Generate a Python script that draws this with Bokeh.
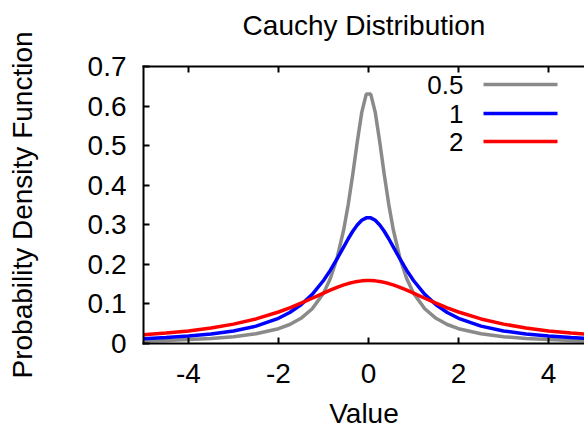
from bokeh.plotting import figure
from bokeh.models import Range1d, FixedTicker, LinearAxis, CustomJSTickFormatter
from bokeh.core.properties import value
from bokeh.embed import file_html
from bokeh.resources import INLINE

# ---- data ----
x_vals = [-5.0, -4.5, -4.0, -3.5, -3.0, -2.5, -2.0, -1.75, -1.5, -1.25, -1.0,
          -0.85, -0.7, -0.55, -0.45, -0.35, -0.25, -0.15, -0.05,
          0.05, 0.15, 0.25, 0.35, 0.45, 0.55, 0.7, 0.85,
          1.0, 1.25, 1.5, 1.75, 2.0, 2.5, 3.0, 3.5, 4.0, 4.5, 5.0]

y_scale_05 = [0.0063, 0.0078, 0.0098, 0.0127, 0.0172, 0.0245, 0.0374, 0.0480, 0.0637, 0.0878, 0.1273,
              0.1637, 0.2151, 0.2881, 0.3517, 0.4273, 0.5093, 0.5841, 0.6303,
              0.6303, 0.5841, 0.5093, 0.4273, 0.3517, 0.2881, 0.2151, 0.1637,
              0.1273, 0.0878, 0.0637, 0.0480, 0.0374, 0.0245, 0.0172, 0.0127, 0.0098, 0.0078, 0.0063]

y_scale_1 = [0.0122, 0.0150, 0.0187, 0.0240, 0.0318, 0.0439, 0.0637, 0.0784, 0.0979, 0.1242, 0.1592,
             0.1848, 0.2136, 0.2444, 0.2647, 0.2836, 0.2996, 0.3113, 0.3175,
             0.3175, 0.3113, 0.2996, 0.2836, 0.2647, 0.2444, 0.2136, 0.1848,
             0.1592, 0.1242, 0.0979, 0.0784, 0.0637, 0.0439, 0.0318, 0.0240, 0.0187, 0.0150, 0.0122]

y_scale_2 = [0.0220, 0.0263, 0.0318, 0.0392, 0.0490, 0.0621, 0.0796, 0.0901, 0.1019, 0.1144, 0.1273,
             0.1348, 0.1418, 0.1480, 0.1515, 0.1544, 0.1567, 0.1583, 0.1591,
             0.1591, 0.1583, 0.1567, 0.1544, 0.1515, 0.1480, 0.1418, 0.1348,
             0.1273, 0.1144, 0.1019, 0.0901, 0.0796, 0.0621, 0.0490, 0.0392, 0.0318, 0.0263, 0.0220]

series_labels = ["0.5", "1", "2"]
series_colors = ["#8a8a8a", "#0000ff", "#ff0000"]

x_ticks = [-4, -2, 0, 2, 4]
y_ticks = [0, 0.1, 0.2, 0.3, 0.4, 0.5, 0.6, 0.7]

title_text = "Cauchy Distribution"

FONT = "Liberation Sans"
W, H = 584, 431
BL, BT, BB = 143, 66, 88
X0, X1 = -5.0, 4.8
Y0, Y1 = 0.0, 0.7

p = figure(width=W, height=H, output_backend="svg", toolbar_location=None,
           x_range=Range1d(X0, X1), y_range=Range1d(Y0, Y1),
           min_border_left=BL, min_border_right=0, min_border_top=BT, min_border_bottom=BB)

p.outline_line_color = None
p.xgrid.visible = False
p.ygrid.visible = False
p.background_fill_color = "white"
p.border_fill_color = "white"

bottom = p.below[0]
left = p.left[0]
top = LinearAxis(ticker=FixedTicker(ticks=x_ticks),
                 formatter=CustomJSTickFormatter(code="return '';"))
p.add_layout(top, "above")

for ax in [bottom, left, top]:
    ax.axis_line_width = 2
    ax.axis_line_cap = "square"
    ax.major_tick_in = 6
    ax.major_tick_out = 0
    ax.major_tick_line_width = 2
    ax.minor_tick_line_color = None
    ax.major_label_text_font = FONT
    ax.major_label_text_font_size = "28px"
    ax.major_label_text_color = "black"
    ax.axis_label_text_font = FONT
    ax.axis_label_text_font_size = "28px"
    ax.axis_label_text_font_style = "normal"
    ax.axis_label_text_color = "black"

bottom.ticker = FixedTicker(ticks=x_ticks)
bottom.formatter = CustomJSTickFormatter(code="return tick.toString();")
bottom.axis_label = "Value"
bottom.major_label_standoff = 20
bottom.axis_label_standoff = 12

left.ticker = FixedTicker(ticks=y_ticks)
left.formatter = CustomJSTickFormatter(code="return tick.toFixed(1).replace(/\\.0$/, '');")
left.axis_label = "Probability Density Function"
left.major_label_standoff = 17
left.axis_label_standoff = 47

# the chart title, carried by the mirrored top axis
top.major_label_text_font_size = "1px"
top.major_label_standoff = 0
top.axis_label = title_text
top.axis_label_standoff = 26

for ys, col in zip([y_scale_05, y_scale_1, y_scale_2], series_colors):
    p.line(x_vals, ys, line_color=col, line_width=3.5)

# layout helpers: frame pixel offsets -> data coordinates
frame_w = W - BL
frame_h = H - BT - BB
def fx(px):  # pixels right of frame left edge -> data x
    return X0 + (X1 - X0) * px / frame_w
def fy(py):  # pixels below frame top edge -> data y
    return Y1 - (Y1 - Y0) * py / frame_h

# gnuplot-style key (label right-aligned, then sample line)
row_py = [18, 47, 75]
key_text_x = fx(320)
key_x0, key_x1 = fx(340), fx(414)
p.text(x=[key_text_x] * 3, y=[fy(r) for r in row_py], text=series_labels,
       text_font=value(FONT), text_font_size="26px", text_align="right",
       text_baseline="middle", text_color="black")
p.segment(x0=[key_x0] * 3, x1=[key_x1] * 3, y0=[fy(r) for r in row_py],
          y1=[fy(r) for r in row_py], line_color=series_colors, line_width=3.5)

open("out.html", "w").write(file_html(p, INLINE))
